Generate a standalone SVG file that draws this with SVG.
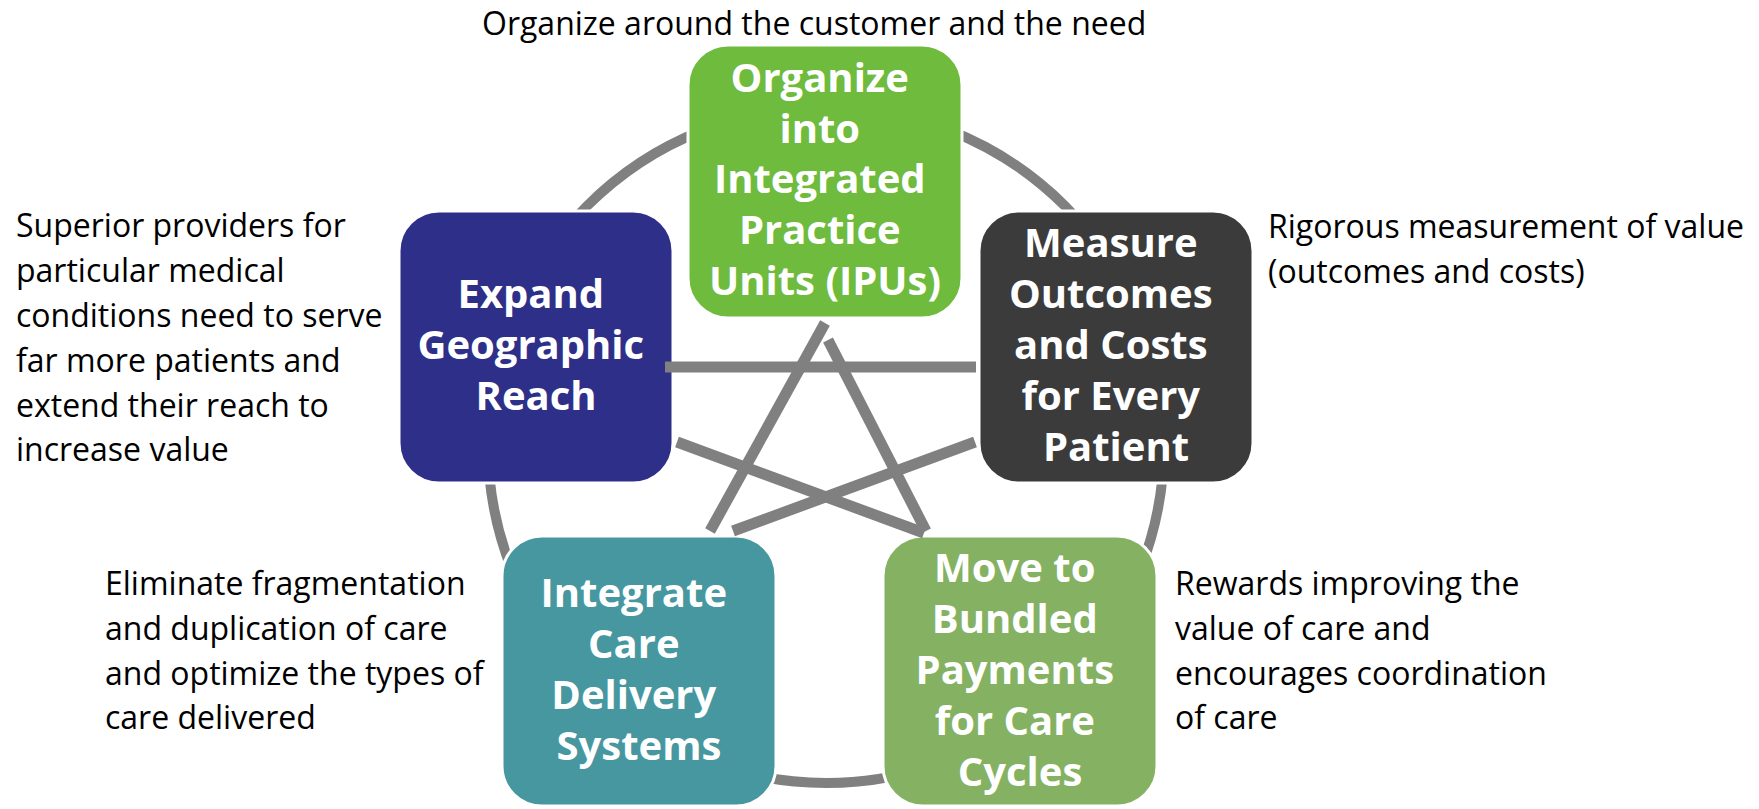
<svg xmlns="http://www.w3.org/2000/svg" width="1759" height="809" viewBox="0 0 1759 809">
  <style>
    .box { stroke: #ffffff; stroke-width: 3; }
    .label { font-family: "Open Sans", "Liberation Sans", sans-serif; font-weight: 700; font-size: 40px; fill: #ffffff; text-anchor: middle; }
    .note { font-family: "Open Sans", "Liberation Sans", sans-serif; font-size: 32px; fill: #000000; }
    .ring { fill: none; stroke: #808080; stroke-width: 10; }
    .link { stroke: #808080; stroke-width: 11; stroke-linecap: butt; fill: none; }
  </style>
  <rect width="1759" height="809" fill="#ffffff"/>

  <!-- cycle ring behind the five boxes -->
  <g id="ring">
    <circle class="ring" cx="826" cy="445" r="338"/>
  </g>

  <!-- five strategy boxes -->
  <g id="node-ipu">
    <rect class="box" x="688" y="45" width="274" height="273" rx="40" fill="#6EBB3E"/>
    <text class="label">
      <tspan x="825" y="92">Organize</tspan>
      <tspan x="825" y="143">into</tspan>
      <tspan x="825" y="193">Integrated</tspan>
      <tspan x="825" y="244">Practice</tspan>
      <tspan x="825" y="295">Units (IPUs)</tspan>
    </text>
  </g>
  <g id="node-measure">
    <rect class="box" x="979" y="211" width="274" height="272" rx="40" fill="#3B3B3B"/>
    <text class="label">
      <tspan x="1116" y="257">Measure</tspan>
      <tspan x="1116" y="308">Outcomes</tspan>
      <tspan x="1116" y="359">and Costs</tspan>
      <tspan x="1116" y="410">for Every</tspan>
      <tspan x="1116" y="461">Patient</tspan>
    </text>
  </g>
  <g id="node-bundled">
    <rect class="box" x="883" y="536" width="274" height="270" rx="40" fill="#84B262"/>
    <text class="label">
      <tspan x="1020" y="582">Move to</tspan>
      <tspan x="1020" y="633">Bundled</tspan>
      <tspan x="1020" y="684">Payments</tspan>
      <tspan x="1020" y="735">for Care</tspan>
      <tspan x="1020" y="786">Cycles</tspan>
    </text>
  </g>
  <g id="node-integrate">
    <rect class="box" x="502" y="536" width="274" height="270" rx="40" fill="#46979F"/>
    <text class="label">
      <tspan x="639" y="607">Integrate</tspan>
      <tspan x="639" y="658">Care</tspan>
      <tspan x="639" y="709">Delivery</tspan>
      <tspan x="639" y="760">Systems</tspan>
    </text>
  </g>
  <g id="node-expand">
    <rect class="box" x="399" y="211" width="274" height="272" rx="40" fill="#2E2F88"/>
    <text class="label">
      <tspan x="536" y="308">Expand</tspan>
      <tspan x="536" y="359">Geographic</tspan>
      <tspan x="536" y="410">Reach</tspan>
    </text>
  </g>

  <!-- star connectors linking the boxes -->
  <g id="connectors">
    <line class="link" x1="665" y1="367" x2="976" y2="367"/>
    <line class="link" x1="825" y1="323" x2="710" y2="531"/>
    <line class="link" x1="828" y1="340" x2="926" y2="531"/>
    <line class="link" x1="677" y1="442" x2="924" y2="533"/>
    <line class="link" x1="975" y1="442" x2="733" y2="531"/>
  </g>

  <!-- descriptions -->
  <g id="note-ipu">
    <text class="note" x="482" y="35">Organize around the customer and the need</text>
  </g>
  <g id="note-expand">
    <text class="note">
      <tspan x="16" y="237">Superior providers for</tspan>
      <tspan x="16" y="282">particular medical</tspan>
      <tspan x="16" y="327">conditions need to serve</tspan>
      <tspan x="16" y="372">far more patients and</tspan>
      <tspan x="16" y="417">extend their reach to</tspan>
      <tspan x="16" y="461">increase value</tspan>
    </text>
  </g>
  <g id="note-measure">
    <text class="note">
      <tspan x="1268" y="238">Rigorous measurement of value</tspan>
      <tspan x="1268" y="283">(outcomes and costs)</tspan>
    </text>
  </g>
  <g id="note-integrate">
    <text class="note">
      <tspan x="105" y="595">Eliminate fragmentation</tspan>
      <tspan x="105" y="640">and duplication of care</tspan>
      <tspan x="105" y="685">and optimize the types of</tspan>
      <tspan x="105" y="729">care delivered</tspan>
    </text>
  </g>
  <g id="note-bundled">
    <text class="note">
      <tspan x="1175" y="595">Rewards improving the</tspan>
      <tspan x="1175" y="640">value of care and</tspan>
      <tspan x="1175" y="685">encourages coordination</tspan>
      <tspan x="1175" y="729">of care</tspan>
    </text>
  </g>
</svg>
